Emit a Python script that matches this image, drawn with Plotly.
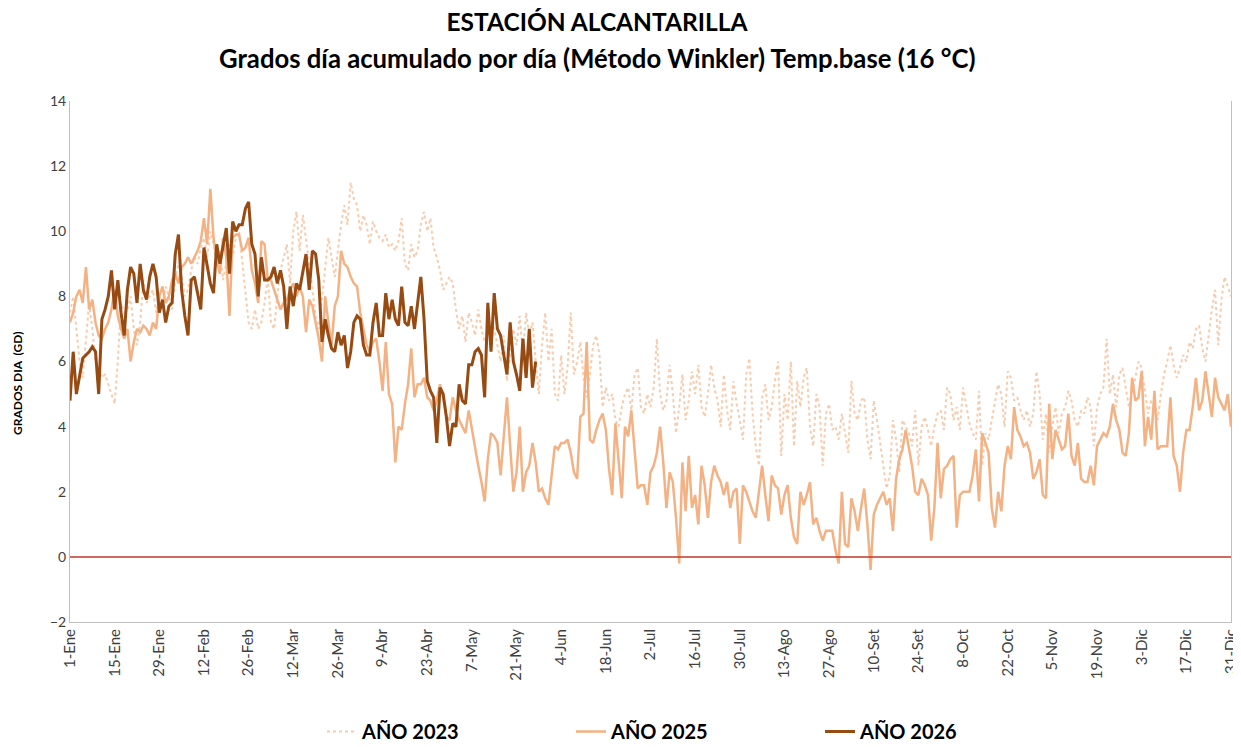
import plotly.graph_objects as go

# Etiquetas del eje X (cada 14 días)
etiquetas_x = ["1-Ene", "15-Ene", "29-Ene", "12-Feb", "26-Feb", "12-Mar", "26-Mar", "9-Abr",
               "23-Abr", "7-May", "21-May", "4-Jun", "18-Jun", "2-Jul", "16-Jul", "30-Jul",
               "13-Ago", "27-Ago", "10-Set", "24-Set", "8-Oct", "22-Oct", "5-Nov", "19-Nov",
               "3-Dic", "17-Dic", "31-Dic"]

# Grados día por día (GD) - año 2023
anio_2023 = [
    7.5, 8.0, 7.0, 6.0, 5.5, 6.8, 7.8, 7.0, 6.0, 5.8, 5.5, 5.6, 5.3, 5.0, 4.7, 6.0, 7.8, 7.5, 7.6, 8.0, 7.0, 6.5, 7.2, 8.5, 7.8, 8.0, 8.2, 7.5, 8.0, 7.8,
    8.3, 8.0, 7.6, 8.5, 9.0, 8.6, 8.0, 8.2, 8.8, 9.2, 9.0, 9.5, 9.8, 9.2, 10.0, 9.6, 9.0, 9.4, 8.5, 9.0, 9.6, 9.2, 9.8, 10.0, 9.0, 8.2, 7.2, 7.0, 7.6, 7.0,
    7.2, 7.8, 8.6, 7.2, 7.0, 8.0, 8.8, 9.2, 9.6, 8.4, 10.0, 10.6, 9.4, 10.5, 9.8, 9.0, 8.2, 7.4, 7.0, 8.0, 9.0, 9.8, 9.2, 8.6, 9.4, 10.2, 10.8, 10.2, 11.5, 11.0,
    10.8, 10.0, 10.5, 10.2, 9.6, 10.3, 10.0, 9.8, 9.7, 9.9, 9.5, 9.6, 9.4, 9.7, 10.4, 9.0, 8.8, 9.6, 9.2, 9.4, 10.2, 10.6, 10.0, 10.4, 9.5, 9.2, 8.8, 8.2, 8.4, 8.6,
    8.4, 7.6, 7.0, 7.4, 6.6, 7.5, 7.2, 6.8, 7.6, 7.0, 6.6, 6.8, 7.2, 7.0, 6.5, 6.0, 6.8, 5.4, 6.2, 7.0, 6.5, 7.4, 6.2, 7.5, 6.8, 7.2, 6.0, 5.0, 6.5, 7.5,
    6.0, 7.0, 5.0, 4.8, 6.2, 5.0, 5.8, 7.5, 5.6, 6.0, 6.6, 5.5, 4.9, 5.6, 6.5, 6.8, 6.2, 4.6, 5.2, 4.8, 5.0, 4.2, 4.0, 4.6, 5.0, 5.2, 4.5, 5.6, 5.8, 4.6,
    4.4, 5.0, 4.6, 5.2, 6.7, 5.0, 4.5, 4.8, 5.9, 5.0, 3.8, 4.6, 5.6, 4.2, 4.8, 5.7, 5.0, 5.9, 4.6, 4.3, 5.0, 5.9, 5.2, 4.8, 4.0, 5.6, 4.5, 3.9, 5.4, 4.7,
    4.2, 3.6, 5.6, 6.1, 4.4, 3.4, 2.8, 4.9, 5.3, 4.2, 4.6, 5.4, 6.0, 3.1, 5.0, 4.2, 6.0, 3.4, 5.4, 4.6, 5.5, 5.8, 4.0, 3.4, 5.0, 4.6, 2.8, 4.4, 4.7, 3.9,
    4.0, 3.6, 4.4, 3.8, 3.2, 5.4, 4.4, 4.2, 4.8, 4.9, 3.6, 3.0, 4.8, 4.2, 3.5, 2.8, 2.1, 2.5, 4.2, 3.6, 2.6, 4.2, 4.0, 3.8, 3.4, 4.5, 2.8, 4.0, 4.3, 3.9,
    3.4, 4.0, 4.4, 4.5, 3.9, 5.2, 5.0, 4.2, 4.6, 3.9, 5.2, 4.6, 4.1, 3.8, 3.6, 5.1, 2.8, 3.8, 3.6, 4.2, 4.8, 5.3, 5.0, 4.0, 5.7, 5.5, 4.8, 4.9, 4.5, 4.2,
    4.5, 4.0, 4.4, 5.7, 5.0, 3.6, 4.4, 3.2, 4.0, 4.6, 3.8, 4.4, 4.6, 5.1, 4.8, 4.2, 4.0, 4.5, 4.4, 4.9, 4.6, 3.4, 4.6, 5.0, 5.2, 6.7, 5.0, 5.6, 4.6, 5.6,
    5.8, 5.2, 4.6, 5.0, 5.5, 6.0, 5.8, 5.1, 4.4, 4.8, 4.9, 4.2, 5.0, 5.6, 6.0, 6.5, 5.9, 5.5, 5.8, 6.2, 6.0, 6.6, 6.4, 7.0, 7.1, 6.4, 6.0, 6.8, 7.6, 8.2,
    6.5, 7.9, 8.6, 8.3, 8.0,
]

# Grados día por día (GD) - año 2025
anio_2025 = [
    7.2, 7.5, 8.0, 8.2, 7.8, 8.9, 7.6, 7.9, 7.2, 6.8, 6.7, 7.0, 7.2, 7.6, 8.2, 7.4, 7.0, 6.7, 7.0, 6.0, 6.6, 7.0, 6.9, 7.1, 7.0, 6.8, 7.2, 7.0, 8.0, 8.3,
    7.8, 8.0, 8.5, 8.7, 8.4, 8.9, 9.0, 9.2, 9.0, 9.2, 9.4, 9.7, 10.4, 9.6, 11.3, 9.8, 9.1, 8.7, 9.8, 9.2, 7.4, 9.8, 9.9, 9.9, 9.4, 9.5, 9.8, 8.8, 8.4, 7.8,
    9.7, 9.6, 8.5, 8.5, 8.2, 7.9, 7.6, 7.8, 7.9, 8.2, 8.4, 8.0, 8.3, 8.0, 6.9, 7.9, 7.7, 7.2, 6.7, 6.0, 8.0, 7.2, 6.5, 7.7, 8.0, 9.4, 9.0, 8.9, 8.6, 8.4,
    8.3, 7.5, 7.0, 6.5, 6.3, 6.6, 6.7, 6.0, 5.1, 6.6, 5.0, 4.7, 2.9, 4.0, 3.9, 4.7, 5.3, 6.4, 4.9, 5.3, 5.3, 5.5, 4.9, 4.8, 4.5, 4.8, 5.3, 4.9, 4.3, 4.2,
    4.9, 4.5, 4.2, 4.0, 3.8, 4.5, 3.9, 3.4, 2.8, 2.3, 1.7, 3.0, 3.8, 3.7, 3.5, 2.5, 3.8, 4.9, 3.4, 2.0, 2.6, 4.0, 2.0, 2.6, 2.8, 3.5, 2.9, 2.0, 2.1, 1.8,
    1.6, 2.5, 3.4, 3.3, 3.5, 3.5, 3.6, 3.2, 2.6, 2.4, 4.3, 4.4, 6.6, 3.6, 3.5, 3.9, 4.2, 4.4, 3.9, 2.7, 1.9, 4.1, 2.8, 1.8, 4.0, 3.7, 4.5, 3.2, 2.1, 2.2,
    2.2, 1.6, 2.6, 2.8, 3.2, 4.0, 2.9, 1.5, 2.6, 2.3, 1.2, -0.2, 2.9, 1.4, 3.1, 1.5, 1.9, 1.0, 2.8, 2.2, 1.2, 2.3, 2.8, 2.5, 2.3, 1.9, 2.3, 1.5, 2.0, 2.1,
    0.4, 2.2, 2.0, 1.7, 1.4, 1.2, 2.0, 2.8, 1.9, 1.1, 2.5, 2.2, 2.1, 1.3, 1.9, 2.2, 1.2, 0.6, 0.4, 2.0, 1.6, 1.9, 2.3, 1.0, 1.2, 0.8, 0.5, 0.8, 0.8, 0.8,
    0.2, -0.2, 2.0, 0.4, 0.3, 1.8, 1.4, 0.8, 1.5, 2.1, 1.0, -0.4, 1.3, 1.6, 1.8, 2.0, 1.6, 1.8, 0.8, 2.4, 3.0, 3.3, 3.9, 3.3, 2.8, 2.0, 1.9, 2.4, 2.2, 1.9,
    0.5, 1.5, 3.5, 1.8, 2.7, 2.8, 3.0, 3.1, 0.9, 1.9, 2.0, 2.0, 2.0, 2.5, 3.3, 1.7, 3.8, 3.5, 3.2, 1.5, 0.9, 2.0, 1.4, 2.8, 3.4, 3.0, 4.6, 3.9, 3.7, 3.4,
    3.5, 3.2, 2.4, 2.6, 3.0, 1.9, 1.8, 4.7, 3.0, 3.9, 3.6, 3.3, 3.4, 4.4, 3.1, 2.8, 3.5, 2.4, 2.3, 2.3, 2.8, 2.2, 3.4, 3.6, 3.8, 3.7, 4.0, 4.7, 4.2, 3.9,
    3.2, 3.1, 3.8, 5.5, 4.8, 4.9, 5.7, 3.4, 4.3, 3.6, 5.1, 3.3, 3.4, 3.4, 3.4, 4.9, 3.1, 2.8, 2.0, 3.2, 3.9, 3.9, 4.6, 5.5, 4.5, 4.8, 5.7, 5.0, 4.3, 5.5,
    4.9, 4.7, 4.5, 5.0, 4.0,
]

# Grados día por día (GD) - año 2026 (hasta fines de mayo)
anio_2026 = [
    4.8, 6.3, 5.0, 5.6, 6.1, 6.2, 6.3, 6.45, 6.3, 5.0, 7.3, 7.6, 8.0, 8.8, 7.6, 8.5, 7.5, 6.8, 8.2, 8.9, 8.7, 7.8, 9.0, 8.2, 7.9, 8.6, 9.0, 8.6, 7.5, 7.9,
    7.2, 7.7, 7.8, 9.3, 9.9, 8.2, 7.4, 6.8, 8.5, 8.6, 8.1, 7.6, 9.5, 9.0, 8.4, 8.1, 9.6, 9.0, 9.6, 10.1, 8.7, 10.3, 10.0, 10.2, 10.2, 10.7, 10.9, 9.6, 9.3, 8.0,
    9.2, 8.5, 8.5, 8.6, 8.9, 8.4, 8.8, 8.3, 7.0, 8.3, 7.7, 8.4, 8.2, 8.7, 9.3, 8.2, 9.4, 9.3, 8.5, 6.6, 7.3, 6.8, 6.4, 6.3, 6.9, 6.5, 6.8, 5.8, 6.3, 7.2,
    7.4, 7.3, 6.5, 6.2, 6.2, 7.2, 7.8, 6.8, 6.8, 8.1, 7.3, 7.9, 7.3, 7.1, 8.3, 7.2, 7.1, 7.7, 7.0, 7.8, 8.6, 7.3, 5.4, 5.1, 4.9, 3.5, 5.2, 5.0, 4.3, 3.4,
    4.1, 4.0, 5.3, 4.8, 4.7, 5.9, 5.9, 6.3, 6.4, 6.2, 4.9, 7.8, 6.3, 8.1, 7.0, 6.8, 6.2, 5.6, 7.2, 6.0, 5.6, 5.1, 6.7, 5.5, 7.0, 5.2, 6.0,
]

fuente = "Lato"
gris = "#404040"

# La página deja 8 px de margen arriba y a la izquierda
ancho, alto = 1233, 739
m_izq, m_der, m_sup, m_inf = 62, 10, 93, 125
ancho_plot = ancho - m_izq - m_der
alto_plot = alto - m_sup - m_inf
x_titulo = (589 - m_izq) / ancho_plot  # centro de los títulos

fig = go.Figure()

fig.add_trace(go.Scatter(
    x=list(range(len(anio_2023))), y=anio_2023, mode="lines", name="AÑO 2023",
    line=dict(color="#F8CBAD", width=2, dash="dot"),
))
fig.add_trace(go.Scatter(
    x=list(range(len(anio_2025))), y=anio_2025, mode="lines", name="AÑO 2025",
    line=dict(color="#F4B183", width=2.5),
))
fig.add_trace(go.Scatter(
    x=list(range(len(anio_2026))), y=anio_2026, mode="lines", name="AÑO 2026",
    line=dict(color="#974A12", width=3),
))

# Línea de referencia en 0
fig.add_hline(y=0, line=dict(color="#C0392B", width=1.5))

fig.update_layout(
    width=ancho, height=alto,
    paper_bgcolor="white", plot_bgcolor="white",
    margin=dict(l=m_izq, r=m_der, t=m_sup, b=m_inf, autoexpand=False),
    font=dict(family=fuente, color=gris),
    title=dict(
        text="ESTACIÓN ALCANTARILLA",
        x=x_titulo, xanchor="center", xref="paper",
        y=1 - 14 / alto, yref="container", yanchor="middle",
        font=dict(family=fuente, size=24.5, color="black", weight="bold"),
    ),
    showlegend=True,
    legend=dict(
        orientation="h", x=(314 - m_izq) / ancho_plot, xanchor="left",
        y=-90 / alto_plot, yanchor="top",
        font=dict(family=fuente, size=20, color="black", weight="bold"),
        entrywidth=204, entrywidthmode="pixels",
    ),
)

# Segunda línea del título
fig.add_annotation(
    text="Grados día acumulado por día (Método Winkler) Temp.base (16 °C)",
    x=x_titulo, xref="paper", xanchor="center",
    y=1 + (m_sup - 50) / alto_plot, yref="paper", yanchor="middle",
    showarrow=False, font=dict(family=fuente, size=25.7, color="black", weight="bold"),
)

# Título del eje Y
fig.add_annotation(
    text="GRADOS DIA  (GD)", textangle=-90,
    x=(10 - m_izq) / ancho_plot, xref="paper", xanchor="center",
    y=(614 - 375) / alto_plot, yref="paper", yanchor="middle",
    showarrow=False, font=dict(family=fuente, size=12, color="black", weight="bold"),
)

fig.update_xaxes(
    range=[0, 364],
    tickmode="array",
    tickvals=list(range(0, 365, 14)),
    ticktext=etiquetas_x,
    tickangle=-90,
    tickfont=dict(size=15, color=gris),
    showgrid=False, zeroline=False, automargin=False,
    showline=True, linecolor="#BFBFBF",
)

fig.update_yaxes(
    range=[-2, 14],
    dtick=2,
    tickfont=dict(size=14, color=gris),
    showgrid=False, zeroline=False, automargin=False,
    showline=True, linecolor="#BFBFBF", mirror=True,
)

fig.write_html("out.html")
